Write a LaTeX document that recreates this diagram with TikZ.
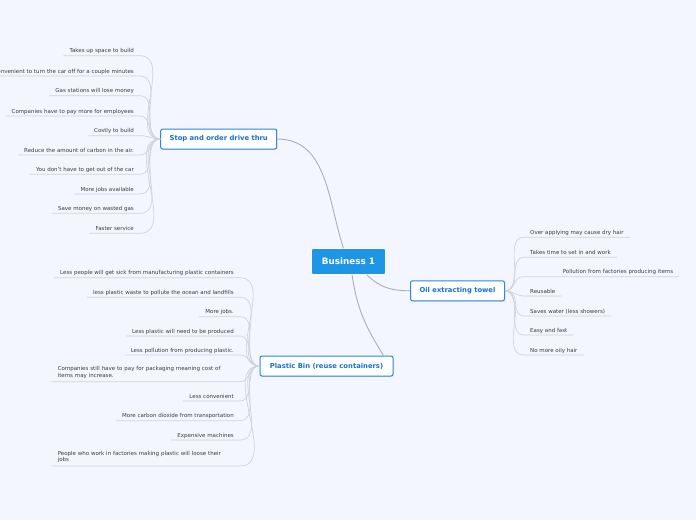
\documentclass[tikz,border=0pt]{standalone}
\usepackage{fontspec}
\setmainfont{DejaVu Sans}
\usetikzlibrary{shadows,calc}
\definecolor{bgcol}{RGB}{243,246,254}
\definecolor{hubblue}{RGB}{30,150,230}
\definecolor{edgeblue}{RGB}{45,135,225}
\definecolor{labblue}{RGB}{25,112,210}
\definecolor{leaftext}{RGB}{60,60,64}
\definecolor{stemgray}{RGB}{172,174,182}
\definecolor{twiggray}{RGB}{208,211,218}

\begin{document}
\begin{tikzpicture}[
  x=1pt, y=-1pt,
  hub/.style={rectangle, rounded corners=2pt, fill=hubblue, draw=white, line width=0.6pt,
              text=white, font=\fontsize{8.8}{10}\selectfont\bfseries,
              minimum width=74pt, minimum height=26pt},
  branch/.style={rectangle, rounded corners=2pt, fill=white, draw=edgeblue, line width=1pt,
                 text=labblue, font=\fontsize{6.8}{8}\selectfont\bfseries, minimum height=20pt,
                 drop shadow={shadow xshift=0.4pt, shadow yshift=-0.8pt, opacity=0.25}},
  leaf/.style={font=\fontsize{5.5}{6.5}\selectfont, text=leaftext, inner xsep=6pt,
               inner ysep=1.4pt, text depth=1.3pt},
  longleaf/.style={leaf, text depth=, inner ysep=3pt, text width=176pt, align=left},
  stem/.style={draw=stemgray, line width=0.9pt},
  twig/.style={draw=twiggray, line width=0.7pt}
]
\useasboundingbox[fill=bgcol] (0,0) rectangle (696,520);

% main topic and branches
\node[hub] (biz) at (348.5,261.5) {Business 1};
\node[branch, minimum width=116pt] (stop) at (218.7,139) {Stop and order drive thru};
\node[branch, minimum width=94pt] (oil) at (457.5,290.8) {Oil extracting towel};
\node[branch, minimum width=133pt] (bin) at (326.5,366) {Plastic Bin (reuse containers)};

% stop and order drive thru
\node[leaf, anchor=south east] (s1) at (140,55.7) {Takes up space to build};
\node[leaf, anchor=south east] (s2) at (140,76) {Inconvenient to turn the car off for a couple minutes};
\node[leaf, anchor=south east] (s3) at (140,95.7) {Gas stations will lose money};
\node[leaf, anchor=south east] (s4) at (140,116) {Companies have to pay more for employees};
\node[leaf, anchor=south east] (s5) at (140,135.7) {Costly to build};
\node[leaf, anchor=south east] (s6) at (140,155) {Reduce the amount of carbon in the air.};
\node[leaf, anchor=south east] (s7) at (140,174.3) {You don’t have to get out of the car};
\node[leaf, anchor=south east] (s8) at (140,194) {More jobs available};
\node[leaf, anchor=south east] (s9) at (140,213.3) {Save money on wasted gas};
\node[leaf, anchor=south east] (s10) at (140,233.3) {Faster service};

% oil extracting towel
\node[leaf, anchor=south west] (o1) at (524,237.3) {Over applying may cause dry hair};
\node[leaf, anchor=south west] (o2) at (524,257.3) {Takes time to set in and work};
\node[leaf, anchor=south west, text width=144pt, align=right] (o3) at (523,276.7) {Pollution from factories producing items};
\node[leaf, anchor=south west] (o4) at (524,296) {Reusable};
\node[leaf, anchor=south west] (o5) at (524,316) {Saves water (less showers)};
\node[leaf, anchor=south west] (o6) at (524,335) {Easy and fast};
\node[leaf, anchor=south west] (o7) at (524,355) {No more oily hair};

% plastic bin
\node[leaf, anchor=south east] (p1) at (240,277.7) {Less people will get sick from manufacturing plastic containers};
\node[leaf, anchor=south east] (p2) at (240,297.3) {less plastic waste to pollute the ocean and landfills};
\node[leaf, anchor=south east] (p3) at (240,316.7) {More jobs.};
\node[leaf, anchor=south east] (p4) at (240,336) {Less plastic will need to be produced};
\node[leaf, anchor=south east] (p5) at (240,355) {Less pollution from producing plastic.};
\node[longleaf, anchor=south east] (p6) at (240,381.7)
  {Companies still have to pay for packaging meaning cost of\\items may increase.};
\node[leaf, anchor=south east] (p7) at (240,401) {Less convenient};
\node[leaf, anchor=south east] (p8) at (240,420.7) {More carbon dioxide from transportation};
\node[leaf, anchor=south east] (p9) at (240,440) {Expensive machines};
\node[longleaf, anchor=south east] (p10) at (240,466)
  {People who work in factories making plastic will loose their\\jobs};

% connectors
\draw[stem] (stop.east) to[out=0,in=108] (biz.111);
\draw[stem] (biz.-36) to[out=-45,in=180] (oil.west);
\draw[stem] (biz.-75) to[out=-82,in=122] ($(bin.north east)+(-10,0)$);
\foreach \n in {1,...,10}
  \draw[twig] (s\n.south west) -- (s\n.south east) to[out=0,in=180] (stop.west);
\foreach \n in {1,...,7}
  \draw[twig] (oil.east) to[out=0,in=180] (o\n.south west) -- (o\n.south east);
\foreach \n in {1,...,10}
  \draw[twig] (p\n.south west) -- (p\n.south east) to[out=0,in=180] (bin.west);
\end{tikzpicture}
\end{document}
